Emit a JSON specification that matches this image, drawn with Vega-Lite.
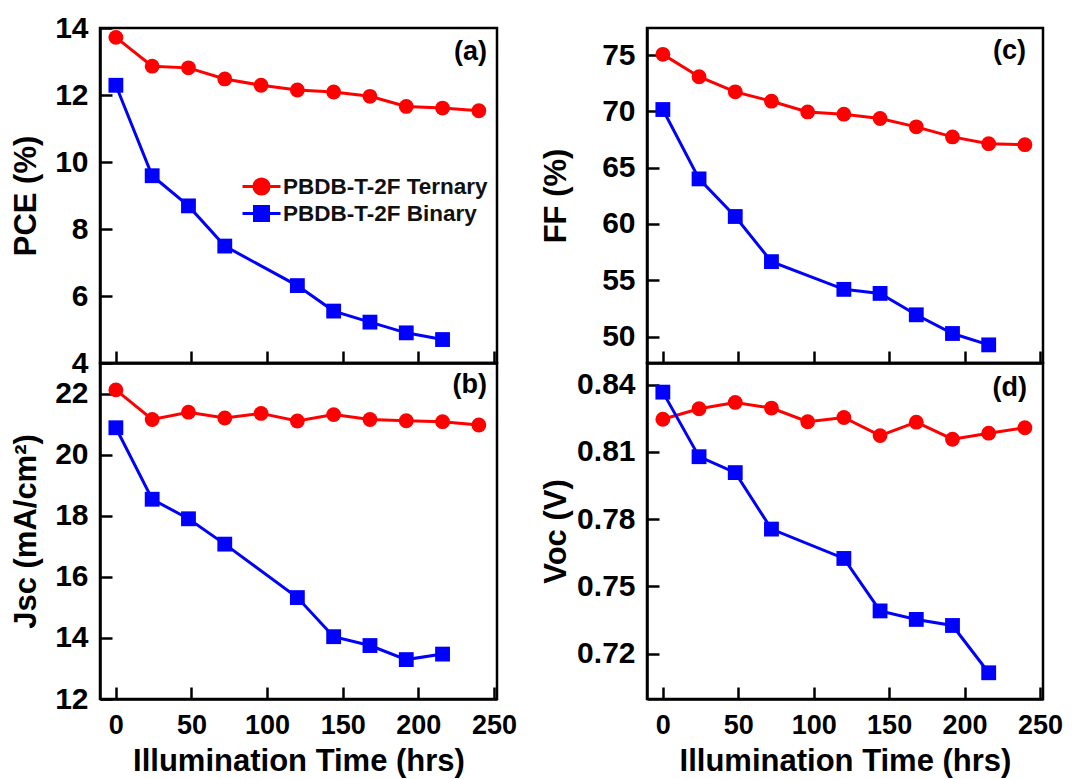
{
  "$schema": "https://vega.github.io/schema/vega-lite/v6.json",
  "background": "white",
  "padding": {"left": 8, "top": 11, "right": 10, "bottom": 8},
  "datasets": {
    "d": [
      {"t": 0, "series": "PBDB-T-2F Ternary", "PCE": 13.72, "Jsc": 22.12, "FF": 75.06, "Voc": 0.8246},
      {"t": 24, "series": "PBDB-T-2F Ternary", "PCE": 12.86, "Jsc": 21.15, "FF": 73.07, "Voc": 0.8293},
      {"t": 48, "series": "PBDB-T-2F Ternary", "PCE": 12.81, "Jsc": 21.39, "FF": 71.73, "Voc": 0.8321},
      {"t": 72, "series": "PBDB-T-2F Ternary", "PCE": 12.48, "Jsc": 21.20, "FF": 70.90, "Voc": 0.8296},
      {"t": 96, "series": "PBDB-T-2F Ternary", "PCE": 12.29, "Jsc": 21.35, "FF": 69.95, "Voc": 0.8235},
      {"t": 120, "series": "PBDB-T-2F Ternary", "PCE": 12.15, "Jsc": 21.10, "FF": 69.75, "Voc": 0.8254},
      {"t": 144, "series": "PBDB-T-2F Ternary", "PCE": 12.09, "Jsc": 21.31, "FF": 69.36, "Voc": 0.8173},
      {"t": 168, "series": "PBDB-T-2F Ternary", "PCE": 11.96, "Jsc": 21.15, "FF": 68.62, "Voc": 0.8233},
      {"t": 192, "series": "PBDB-T-2F Ternary", "PCE": 11.66, "Jsc": 21.11, "FF": 67.73, "Voc": 0.8157},
      {"t": 216, "series": "PBDB-T-2F Ternary", "PCE": 11.61, "Jsc": 21.08, "FF": 67.13, "Voc": 0.8184},
      {"t": 240, "series": "PBDB-T-2F Ternary", "PCE": 11.53, "Jsc": 20.97, "FF": 67.04, "Voc": 0.8208},
      {"t": 0, "series": "PBDB-T-2F Binary", "PCE": 12.29, "Jsc": 20.88, "FF": 70.16, "Voc": 0.8367},
      {"t": 24, "series": "PBDB-T-2F Binary", "PCE": 9.59, "Jsc": 18.54, "FF": 64.0, "Voc": 0.8079},
      {"t": 48, "series": "PBDB-T-2F Binary", "PCE": 8.69, "Jsc": 17.90, "FF": 60.66, "Voc": 0.8008},
      {"t": 72, "series": "PBDB-T-2F Binary", "PCE": 7.49, "Jsc": 17.07, "FF": 56.65, "Voc": 0.7756},
      {"t": 120, "series": "PBDB-T-2F Binary", "PCE": 6.31, "Jsc": 15.32, "FF": 54.19, "Voc": 0.7625},
      {"t": 144, "series": "PBDB-T-2F Binary", "PCE": 5.55, "Jsc": 14.04, "FF": 53.83, "Voc": 0.7391},
      {"t": 168, "series": "PBDB-T-2F Binary", "PCE": 5.22, "Jsc": 13.75, "FF": 51.93, "Voc": 0.7353},
      {"t": 192, "series": "PBDB-T-2F Binary", "PCE": 4.90, "Jsc": 13.29, "FF": 50.27, "Voc": 0.7326},
      {"t": 216, "series": "PBDB-T-2F Binary", "PCE": 4.70, "Jsc": 13.47, "FF": 49.26, "Voc": 0.7115}
    ]
  },
  "data": {"name": "d"},
  "columns": 2,
  "spacing": {"row": 0, "column": 150},
  "bounds": "flush",
  "concat": [
    {
      "width": 397, "height": 335,
      "title": {"text": "(a)", "offset": -53, "dx": -10},
      "encoding": {
        "x": {"field": "t", "type": "quantitative", "scale": {"domain": [-10.5, 252], "nice": false, "zero": false},
              "axis": {"values": [0, 50, 100, 150, 200, 250], "labels": false, "title": null}},
        "y": {"field": "PCE", "type": "quantitative", "scale": {"domain": [4, 14], "nice": false, "zero": false},
              "axis": {"values": [4, 6, 8, 10, 12, 14], "title": "PCE (%)", "minExtent": 52, "maxExtent": 52}},
        "color": {"field": "series", "type": "nominal",
                  "scale": {"domain": ["PBDB-T-2F Ternary", "PBDB-T-2F Binary"], "range": ["#ff0000", "#0000ff"]},
                  "legend": {
                    "encode": {"symbols": {"update": {
                      "shape": {"signal": "datum.value == 'PBDB-T-2F Ternary' ? 'M-1.9,0H1.9M0.76,0A0.76,0.76,0,1,1,-0.76,0A0.76,0.76,0,1,1,0.76,0Z' : 'M-1.9,0H1.9M-0.7,-0.7H0.7V0.7H-0.7Z'"},
                      "fill": {"signal": "datum.value == 'PBDB-T-2F Ternary' ? '#ff0000' : '#0000ff'"},
                      "stroke": {"signal": "datum.value == 'PBDB-T-2F Ternary' ? '#ff0000' : '#0000ff'"},
                      "strokeWidth": {"value": 3},
                      "size": {"value": 400},
                      "opacity": {"value": 1}
                    }}}
                  }}
      },
      "layer": [
        {"mark": {"type": "line", "strokeWidth": 3}},
        {"transform": [{"filter": "datum.series == 'PBDB-T-2F Ternary'"}],
         "mark": {"type": "point", "shape": "circle", "filled": true, "size": 220, "opacity": 1}},
        {"transform": [{"filter": "datum.series == 'PBDB-T-2F Binary'"}],
         "mark": {"type": "point", "shape": "square", "filled": true, "size": 220, "opacity": 1}}
      ]
    },
    {
      "width": 396, "height": 335,
      "title": {"text": "(c)", "offset": -37, "dx": -17},
      "encoding": {
        "x": {"field": "t", "type": "quantitative", "scale": {"domain": [-10.5, 252], "nice": false, "zero": false},
              "axis": {"values": [0, 50, 100, 150, 200, 250], "labels": false, "title": null}},
        "y": {"field": "FF", "type": "quantitative", "scale": {"domain": [47.65, 77.4], "nice": false, "zero": false},
              "axis": {"values": [50, 55, 60, 65, 70, 75], "title": "FF (%)", "minExtent": 69, "maxExtent": 69}},
        "color": {"field": "series", "type": "nominal"}
      },
      "layer": [
        {"mark": {"type": "line", "strokeWidth": 3}},
        {"transform": [{"filter": "datum.series == 'PBDB-T-2F Ternary'"}],
         "mark": {"type": "point", "shape": "circle", "filled": true, "size": 220, "opacity": 1}},
        {"transform": [{"filter": "datum.series == 'PBDB-T-2F Binary'"}],
         "mark": {"type": "point", "shape": "square", "filled": true, "size": 220, "opacity": 1}}
      ]
    },
    {
      "width": 397, "height": 336,
      "title": {"text": "(b)", "offset": -36, "dx": -10},
      "encoding": {
        "x": {"field": "t", "type": "quantitative", "scale": {"domain": [-10.5, 252], "nice": false, "zero": false},
              "axis": {"values": [0, 50, 100, 150, 200, 250], "title": "Illumination Time (hrs)"}},
        "y": {"field": "Jsc", "type": "quantitative", "scale": {"domain": [12, 23], "nice": false, "zero": false},
              "axis": {"values": [12, 14, 16, 18, 20, 22], "title": "Jsc (mA/cm²)", "minExtent": 52, "maxExtent": 52}},
        "color": {"field": "series", "type": "nominal"}
      },
      "layer": [
        {"mark": {"type": "line", "strokeWidth": 3}},
        {"transform": [{"filter": "datum.series == 'PBDB-T-2F Ternary'"}],
         "mark": {"type": "point", "shape": "circle", "filled": true, "size": 220, "opacity": 1}},
        {"transform": [{"filter": "datum.series == 'PBDB-T-2F Binary'"}],
         "mark": {"type": "point", "shape": "square", "filled": true, "size": 220, "opacity": 1}}
      ]
    },
    {
      "width": 396, "height": 336,
      "title": {"text": "(d)", "offset": -39, "dx": -16},
      "encoding": {
        "x": {"field": "t", "type": "quantitative", "scale": {"domain": [-10.5, 252], "nice": false, "zero": false},
              "axis": {"values": [0, 50, 100, 150, 200, 250], "title": "Illumination Time (hrs)"}},
        "y": {"field": "Voc", "type": "quantitative", "scale": {"domain": [0.6998, 0.8497], "nice": false, "zero": false},
              "axis": {"values": [0.72, 0.75, 0.78, 0.81, 0.84], "format": ".2f", "title": "Voc (V)", "minExtent": 69, "maxExtent": 69}},
        "color": {"field": "series", "type": "nominal"}
      },
      "layer": [
        {"mark": {"type": "line", "strokeWidth": 3}},
        {"transform": [{"filter": "datum.series == 'PBDB-T-2F Ternary'"}],
         "mark": {"type": "point", "shape": "circle", "filled": true, "size": 220, "opacity": 1}},
        {"transform": [{"filter": "datum.series == 'PBDB-T-2F Binary'"}],
         "mark": {"type": "point", "shape": "square", "filled": true, "size": 220, "opacity": 1}}
      ]
    }
  ],
  "config": {
    "font": "Liberation Sans",
    "view": {"stroke": "black", "strokeWidth": 2.5},
    "axis": {
      "grid": false,
      "domainColor": "black", "domainWidth": 2.5,
      "tickColor": "black", "tickWidth": 2.5, "tickSize": -12,
      "labelFont": "Liberation Sans", "labelFontWeight": "bold", "labelFontSize": 27, "labelColor": "black",
      "titleFont": "Liberation Sans", "titleFontWeight": "bold", "titleFontSize": 31, "titleColor": "black"
    },
    "axisY": {"labelPadding": 24, "titlePadding": 6, "labelFontSize": 30},
    "axisX": {"labelPadding": 25, "titlePadding": 8},
    "title": {"anchor": "end", "frame": "group", "fontSize": 27, "font": "Liberation Sans", "fontWeight": "bold", "color": "black"},
    "legend": {
      "orient": "none", "legendX": 150, "legendY": 147, "title": null,
      "labelFont": "Liberation Sans", "labelFontWeight": "bold", "labelFontSize": 22.5, "labelColor": "#111", "labelLimit": 400,
      "symbolSize": 400, "labelOffset": 10, "rowPadding": -1
    }
  }
}
